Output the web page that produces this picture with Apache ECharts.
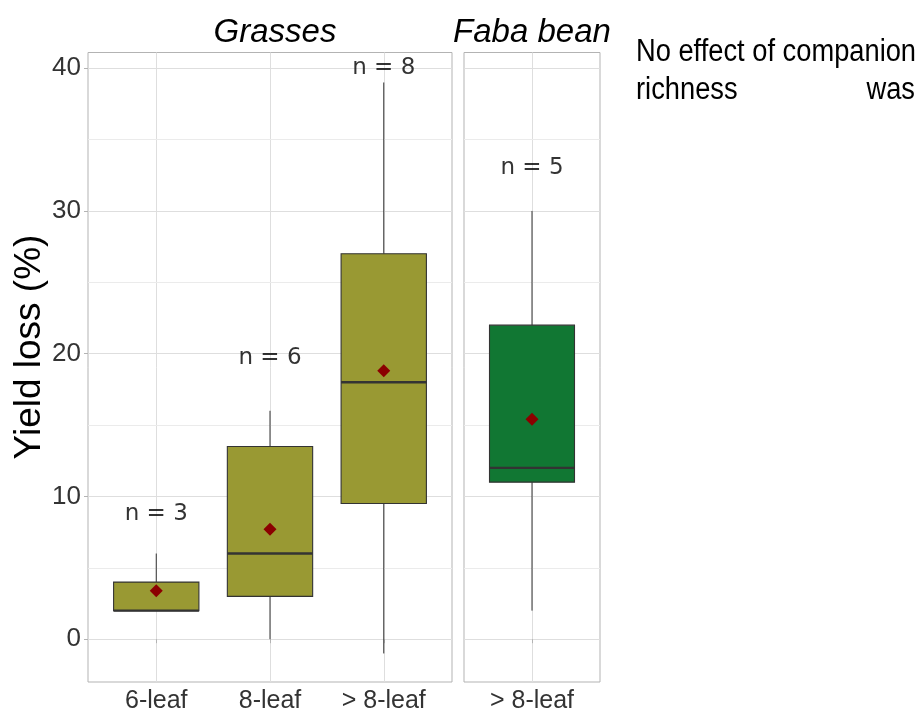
<!DOCTYPE html>
<html><head><meta charset="utf-8">
<script src="https://cdn.jsdelivr.net/npm/echarts@6/dist/echarts.min.js"></script>
<style>html,body{margin:0;padding:0;background:#fff}#c{width:917px;height:709px}</style>
</head><body><div id="c"></div>
<script>
// ---- data ----
const grassCategories = ['6-leaf', '8-leaf', '> 8-leaf'];
const fabaCategories = ['> 8-leaf'];
// [min, Q1, median, Q3, max]
const grassBoxes = [[2, 2, 2, 4, 6], [0, 3, 6, 13.5, 16], [-1, 9.5, 18, 27, 39]];
const fabaBoxes = [[2, 11, 12, 22, 30]];
const grassMeans = [3.4, 7.7, 18.8];
const fabaMeans = [15.4];
const grassN = [3, 6, 8];
const fabaN = [5];
const grassNLabelY = [8.8, 19.7, 40.0];
const fabaNLabelY = [33.0];
const yTicks = [0, 10, 20, 30, 40];
const yMinorTicks = [5, 15, 25, 35];
const panelTitles = ['Grasses', 'Faba bean'];
const yTitle = 'Yield loss (%)';
const sideText = ['No effect of companion', 'richness', 'was'];

// ---- layout / style ----
const W = 917, H = 709;
const G1 = { left: 88, right: W - 452, top: 52.5, bottom: H - 682 };
const G2 = { left: 464, right: W - 600, top: 52.5, bottom: H - 682 };
const Y_MIN = -3, Y_MAX = 41.1;
const BOX_WIDTH = 0.75;
const BORDER = '#B3B3B3', GRID_MAJOR = '#DEDEDE', GRID_MINOR = '#EBEBEB';
const LINE = '#333333';

const chart = echarts.init(document.getElementById('c'), null, { renderer: 'canvas' });

function withX(arr) { return arr.map((v, i) => [i + 1].concat(v)); }
function pts(vals) { return vals.map((v, i) => [i + 1, v]); }
function nPts(ys, ns) { return ys.map((v, i) => [i + 1, v, ns[i]]); }

function renderBox(fill) {
  return function (params, api) {
    const x = api.value(0);
    const lo = api.coord([x, api.value(1)]);
    const q1 = api.coord([x, api.value(2)]);
    const md = api.coord([x, api.value(3)]);
    const q3 = api.coord([x, api.value(4)]);
    const hi = api.coord([x, api.value(5)]);
    const hw = api.size([BOX_WIDTH, 0])[0] / 2;
    return {
      type: 'group',
      children: [
        { type: 'line', shape: { x1: lo[0], y1: lo[1], x2: q1[0], y2: q1[1] }, style: { stroke: LINE, lineWidth: 1 } },
        { type: 'line', shape: { x1: q3[0], y1: q3[1], x2: hi[0], y2: hi[1] }, style: { stroke: LINE, lineWidth: 1 } },
        { type: 'rect', shape: { x: q3[0] - hw, y: q3[1], width: 2 * hw, height: q1[1] - q3[1] }, style: { fill: fill, stroke: LINE, lineWidth: 1.1 } },
        { type: 'line', shape: { x1: md[0] - hw, y1: md[1], x2: md[0] + hw, y2: md[1] }, style: { stroke: LINE, lineWidth: 2.4 } }
      ]
    };
  };
}

function xAxis(gridIndex, cats) {
  const vals = cats.map((c, i) => i + 1);
  return {
    type: 'value', gridIndex: gridIndex, min: 0.4, max: cats.length + 0.6,
    minInterval: 1, maxInterval: 1, splitNumber: cats.length,
    axisLine: { show: false },
    axisTick: { show: true, length: 4, lineStyle: { color: BORDER }, customValues: vals },
    axisLabel: {
      customValues: vals,
      margin: 7, fontFamily: 'Liberation Sans', fontSize: 25, color: '#333',
      formatter: v => (Number.isInteger(v) && cats[v - 1]) ? cats[v - 1] : ''
    },
    splitLine: { show: true, lineStyle: { color: GRID_MAJOR, width: 1 } }
  };
}

function yAxis(gridIndex, showLabels) {
  return {
    type: 'value', gridIndex: gridIndex, min: Y_MIN, max: Y_MAX,
    minInterval: 10, maxInterval: 10,
    axisLine: { show: false },
    axisTick: { show: showLabels, length: 4, lineStyle: { color: BORDER }, customValues: yTicks },
    axisLabel: {
      show: showLabels, customValues: yTicks,
      margin: 7, fontFamily: 'Liberation Sans', fontSize: 26, color: '#333',
      formatter: v => (v % 10 === 0 ? String(v) : '')
    },
    splitLine: { show: true, lineStyle: { color: GRID_MAJOR, width: 1 } }
  };
}

function minorLines() {
  return {
    silent: true, symbol: 'none', z: 1, animation: false,
    label: { show: false },
    lineStyle: { color: GRID_MINOR, width: 1, type: 'solid' },
    data: yMinorTicks.map(v => ({ yAxis: v }))
  };
}

function meanSeries(idx, vals) {
  return {
    type: 'scatter', xAxisIndex: idx, yAxisIndex: idx, z: 4,
    symbol: 'diamond', symbolSize: 13, itemStyle: { color: '#8B0000', opacity: 1 },
    data: pts(vals), markLine: minorLines()
  };
}

function nSeries(idx, ys, ns) {
  return {
    type: 'scatter', xAxisIndex: idx, yAxisIndex: idx, z: 5,
    symbol: 'circle', symbolSize: 1, itemStyle: { color: 'rgba(0,0,0,0)' },
    label: {
      show: true, position: 'inside', fontFamily: 'DejaVu Sans', fontSize: 23, color: '#000',
      formatter: p => 'n = ' + p.value[2]
    },
    data: nPts(ys, ns)
  };
}

function boxSeries(idx, boxes, fill) {
  return {
    type: 'custom', xAxisIndex: idx, yAxisIndex: idx, z: 2,
    renderItem: renderBox(fill),
    encode: { x: 0, y: [1, 2, 3, 4, 5] },
    data: withX(boxes)
  };
}

const gridStyle = { show: true, borderColor: BORDER, borderWidth: 1, backgroundColor: '#fff', containLabel: false, outerBoundsMode: 'none' };

const c1 = G1.left + (W - G1.right - G1.left) / 2;
const c2 = G2.left + (W - G2.right - G2.left) / 2;
const sideFont = { fontFamily: 'Liberation Sans', fontSize: 31, fill: '#000', textVerticalAlign: 'alphabetic' };

chart.setOption({
  animation: false,
  backgroundColor: '#fff',
  grid: [Object.assign({}, gridStyle, G1), Object.assign({}, gridStyle, G2)],
  xAxis: [xAxis(0, grassCategories), xAxis(1, fabaCategories)],
  yAxis: [yAxis(0, true), yAxis(1, false)],
  series: [
    boxSeries(0, grassBoxes, '#999933'),
    boxSeries(1, fabaBoxes, '#117733'),
    meanSeries(0, grassMeans),
    meanSeries(1, fabaMeans),
    nSeries(0, grassNLabelY, grassN),
    nSeries(1, fabaNLabelY, fabaN)
  ],
  graphic: [
    { type: 'text', x: c1 + 5, y: 33, style: { text: panelTitles[0], fontFamily: 'Liberation Sans', fontStyle: 'italic', fontSize: 33, fill: '#000', textAlign: 'center', textVerticalAlign: 'middle' } },
    { type: 'text', x: c2, y: 33, style: { text: panelTitles[1], fontFamily: 'Liberation Sans', fontStyle: 'italic', fontSize: 33, fill: '#000', textAlign: 'center', textVerticalAlign: 'middle' } },
    { type: 'text', x: 30, y: 347, rotation: Math.PI / 2, style: { text: yTitle, fontFamily: 'Liberation Sans', fontSize: 37, fill: '#000', textAlign: 'center', textVerticalAlign: 'middle' } },
    { type: 'text', x: 636, y: 37, scaleX: 0.88, style: Object.assign({ text: sideText[0], textAlign: 'left' }, sideFont) },
    { type: 'text', x: 636, y: 75, scaleX: 0.88, style: Object.assign({ text: sideText[1], textAlign: 'left' }, sideFont) },
    { type: 'text', x: 915, y: 75, scaleX: 0.88, style: Object.assign({ text: sideText[2], textAlign: 'right' }, sideFont) }
  ]
});
</script>
</body></html>
